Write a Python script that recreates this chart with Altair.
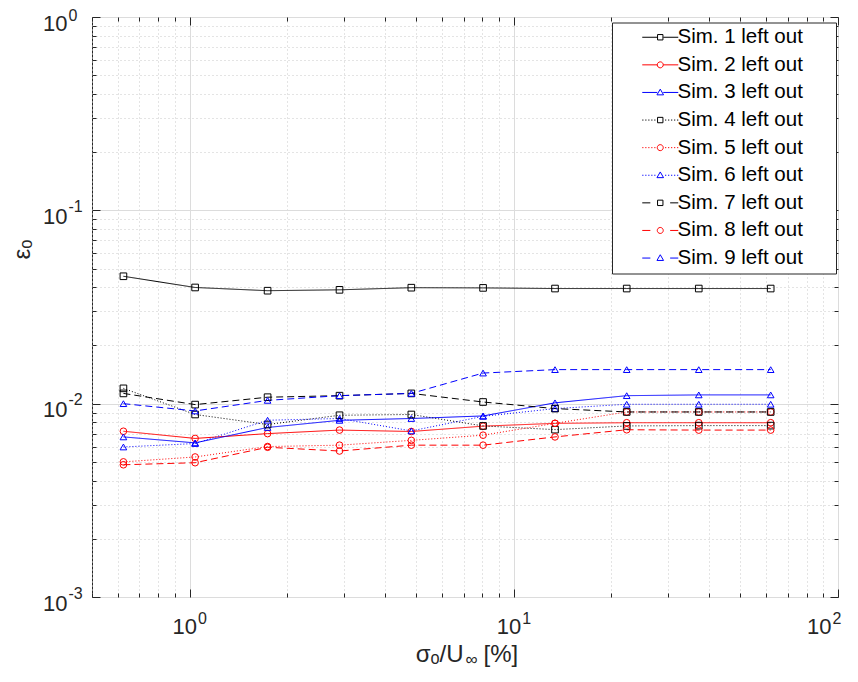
import altair as alt
import pandas as pd

# ---------------- data ----------------
x_vals = [0.625, 1.04, 1.74, 2.9, 4.83, 8.04, 13.4, 22.3, 37.2, 62.0]

sim1 = [0.0456, 0.0399, 0.0384, 0.0388, 0.0398, 0.0397, 0.0394, 0.0394, 0.0394, 0.0394]
sim2 = [0.00720, 0.00661, 0.00700, 0.00730, 0.00718, 0.00765, 0.00791, 0.00797, 0.00797, 0.00797]
sim3 = [0.00673, 0.00627, 0.00753, 0.00820, 0.00838, 0.00864, 0.0101, 0.0110, 0.0111, 0.0111]
sim4 = [0.0120, 0.00879, 0.00780, 0.00871, 0.00879, 0.00767, 0.00734, 0.00767, 0.00770, 0.00770]
sim5 = [0.00500, 0.00530, 0.00600, 0.00610, 0.00646, 0.00687, 0.00791, 0.00906, 0.00906, 0.00906]
sim6 = [0.00597, 0.00622, 0.00821, 0.00838, 0.00723, 0.00860, 0.00943, 0.00993, 0.00993, 0.00993]
sim7 = [0.0113, 0.00989, 0.0108, 0.0110, 0.0113, 0.0102, 0.00943, 0.00906, 0.00906, 0.00906]
sim8 = [0.00483, 0.00495, 0.00595, 0.00569, 0.00610, 0.00610, 0.00673, 0.00733, 0.00730, 0.00730]
sim9 = [0.0100, 0.00917, 0.0104, 0.0110, 0.0113, 0.0144, 0.0150, 0.0150, 0.0150, 0.0150]

labels = ["Sim. 1 left out", "Sim. 2 left out", "Sim. 3 left out",
          "Sim. 4 left out", "Sim. 5 left out", "Sim. 6 left out",
          "Sim. 7 left out", "Sim. 8 left out", "Sim. 9 left out"]

x_tick_values = [0.5, 0.6, 0.7, 0.8, 0.9, 1, 2, 3, 4, 5, 6, 7, 8, 9,
                 10, 20, 30, 40, 50, 60, 70, 80, 90, 100]
y_tick_values = [0.001, 0.002, 0.003, 0.004, 0.005, 0.006, 0.007, 0.008, 0.009,
                 0.01, 0.02, 0.03, 0.04, 0.05, 0.06, 0.07, 0.08, 0.09,
                 0.1, 0.2, 0.3, 0.4, 0.5, 0.6, 0.7, 0.8, 0.9, 1]
x_major = [1, 10, 100]
x_major_exponents = ["0", "1", "2"]
y_major = [0.001, 0.01, 0.1, 1]
y_major_exponents = ["-3", "-2", "-1", "0"]
tick_base = "10"

x_title_main = "\u03c3\u2092/U"
x_title_sub = "\u221e"
x_title_end = "[%]"
y_title = "\u03b5\u2092"

# ---------------- styles ----------------
FONT = "Liberation Sans"
AX = "#262626"
line_colors = ["#000000", "#ff0000", "#0000ff"] * 3
dash_styles = [[1, 0]] * 3 + [[1, 2]] * 3 + [[7, 4]] * 3
marker_shapes = ["square", "circle", "triangle-up"] * 3

# legend symbols: line segment + hollow marker (unit = 3 px at size 36)
_solid = "M-6,0H-1M1,0H6"
_dotted = ("M-6,0H-5.6M-5,0H-4.6M-4,0H-3.6M-3,0H-2.6M-2,0H-1.6"
           "M1.6,0H2M2.6,0H3M3.6,0H4M4.6,0H5M5.6,0H6")
_dashed = "M-6,0H-3.3M3.3,0H6"
_sq = "M-0.9,-0.9H0.9V0.9H-0.9Z"
_ci = "M1,0A1,1,0,1,1,-1,0A1,1,0,1,1,1,0Z"
_tr = "M0,-1.1L1.1,0.8H-1.1Z"
legend_paths = [s + m for s in (_solid, _dotted, _dashed) for m in (_sq, _ci, _tr)]

# ---------------- long table ----------------
series = [sim1, sim2, sim3, sim4, sim5, sim6, sim7, sim8, sim9]
rows = []
for lab, vals in zip(labels, series):
    for xv, yv in zip(x_vals, vals):
        rows.append({"x": xv, "eps": yv, "series": lab})
df = pd.DataFrame(rows)

MAJOR = "abs(log(datum.value)/LN10 - round(log(datum.value)/LN10)) < 0.000001"


def cond(major_val, minor_val, test=MAJOR):
    return {"condition": {"test": test, "value": major_val}, "value": minor_val}


def label_expr(vals, texts):
    expr = "''"
    for v, t in zip(reversed(vals), reversed(texts)):
        expr = f"abs(datum.value - {v}) < {v} * 0.000001 ? '{t}' : ({expr})"
    return expr


W, H = 746, 580

xscale = alt.Scale(type="log", domain=[0.5, 100], nice=False)
yscale = alt.Scale(type="log", domain=[0.001, 1], nice=False)

label_common = dict(ticks=False, domain=False, labelFont=FONT, labelColor=AX,
                    labelOverlap=False, labelFlush=False, labelBaseline="alphabetic",
                    titleFont=FONT, titleFontWeight="normal", titleColor=AX)
grid_common = dict(grid=True, gridColor=cond("#dcdcdc", "#c8c8c8"),
                   gridDash=cond([], [1, 3]), gridWidth=1)
LAST_X = "datum.value > 99"
TOP_Y = "datum.value > 0.99"

# base "10" labels + grid + main titles
x_base_axis = alt.Axis(orient="bottom", values=x_tick_values,
                       labelExpr=label_expr(x_major, [tick_base] * 3),
                       labelFontSize=22, labelAlign="right",
                       labelOffset=cond(-7, 7, LAST_X), labelPadding=36,
                       title=x_title_main, titleFontSize=24, titleX=371, titleY=64,
                       titleBaseline="alphabetic", titleAlign="right",
                       **grid_common, **label_common)
y_base_axis = alt.Axis(orient="left", values=y_tick_values,
                       labelExpr=label_expr(y_major, [tick_base] * 4),
                       labelFontSize=22, labelAlign="right", labelOffset=13, labelPadding=25,
                       title=y_title, titleFontSize=24, titleAngle=270, titleX=-70, titleY=232,
                       titleBaseline="middle", titleAlign="center",
                       **grid_common, **label_common)

# exponent labels
x_exp_axis = alt.Axis(orient="bottom", values=x_tick_values,
                      labelExpr=label_expr(x_major, x_major_exponents),
                      labelFontSize=16, labelAlign="left",
                      labelOffset=cond(-6, 8, LAST_X), labelPadding=26,
                      grid=False, title=None, **label_common)
y_exp_axis = alt.Axis(orient="left", values=y_tick_values,
                      labelExpr=label_expr(y_major, y_major_exponents),
                      labelFontSize=16, labelAlign="left",
                      labelOffset=cond(3, 1, TOP_Y), labelPadding=24,
                      grid=False, title=None, **label_common)

# inward ticks on all four sides (axes flipped to the opposite edge)
tick_common = dict(labels=False, grid=False, domain=False, ticks=True, tickColor=AX,
                   tickWidth=1, tickSize=cond(8, 4))

x_ticks_lower = alt.Axis(orient="top", offset=-H, values=x_tick_values,
                         title=x_title_sub, titleFont=FONT, titleFontSize=17,
                         titleFontWeight="normal", titleColor=AX, titleX=373, titleY=67,
                         titleBaseline="alphabetic", titleAlign="left", **tick_common)
y_ticks_left = alt.Axis(orient="right", offset=-W, values=y_tick_values, title=None,
                        **tick_common)
x_ticks_upper = alt.Axis(orient="bottom", offset=-H, values=x_tick_values,
                         title=x_title_end, titleFont=FONT, titleFontSize=24,
                         titleFontWeight="normal", titleColor=AX, titleX=391, titleY=H + 64,
                         titleBaseline="alphabetic", titleAlign="left", **tick_common)
y_ticks_right = alt.Axis(orient="left", offset=-W, values=y_tick_values, title=None,
                         **tick_common)

lines = alt.Chart(df).mark_line(strokeWidth=1).encode(
    x=alt.X("x:Q", scale=xscale, axis=x_base_axis),
    y=alt.Y("eps:Q", scale=yscale, axis=y_base_axis),
    color=alt.Color("series:N", scale=alt.Scale(domain=labels, range=line_colors), legend=None),
    strokeDash=alt.StrokeDash("series:N", scale=alt.Scale(domain=labels, range=dash_styles),
                              legend=None),
)

points = alt.Chart(df).mark_point(filled=False, size=44, strokeWidth=1, opacity=1).encode(
    x=alt.X("x:Q", scale=xscale, axis=x_ticks_lower),
    y=alt.Y("eps:Q", scale=yscale, axis=y_ticks_left),
    color=alt.Color("series:N", scale=alt.Scale(domain=labels, range=line_colors), legend=None),
    shape=alt.Shape("series:N", scale=alt.Scale(domain=labels, range=marker_shapes), legend=None),
)

pad_text = "\u00a0" * 5 + "\u200b"
leg = alt.Legend(orient="none", legendX=520, legendY=5.5, padding=4.5, strokeColor=AX,
                 fillColor="white", title=None, labelFont=FONT, labelFontSize=20.5,
                 labelColor="black", symbolSize=36, symbolStrokeWidth=1,
                 symbolOffset=33.5, labelOffset=7, rowPadding=6.6, labelLimit=400,
                 labelExpr=f"datum.label + '{pad_text}'")

legend_layer = alt.Chart(df).transform_filter("false").mark_point(
    filled=False, size=36, strokeWidth=1, opacity=1).encode(
    x=alt.X("x:Q", scale=xscale, axis=x_ticks_upper),
    y=alt.Y("eps:Q", scale=yscale, axis=y_ticks_right),
    color=alt.Color("series:N", scale=alt.Scale(domain=labels, range=line_colors), legend=leg),
    shape=alt.Shape("series:N", scale=alt.Scale(domain=labels, range=legend_paths), legend=leg),
)

exp_layer = alt.Chart(df).transform_filter("false").mark_point(opacity=0).encode(
    x=alt.X("x:Q", scale=xscale, axis=x_exp_axis),
    y=alt.Y("eps:Q", scale=yscale, axis=y_exp_axis),
)

chart = alt.layer(lines, points, legend_layer, exp_layer).resolve_scale(
    color="independent", shape="independent", strokeDash="independent"
).resolve_axis(
    x="independent", y="independent"
).properties(
    width=W, height=H, autosize="none", background="white",
    padding={"left": 84, "top": 9, "right": 12, "bottom": 70},
).configure_view(stroke=AX, strokeWidth=1)

chart.save("out.html", embed_options={"renderer": "svg", "actions": False})
